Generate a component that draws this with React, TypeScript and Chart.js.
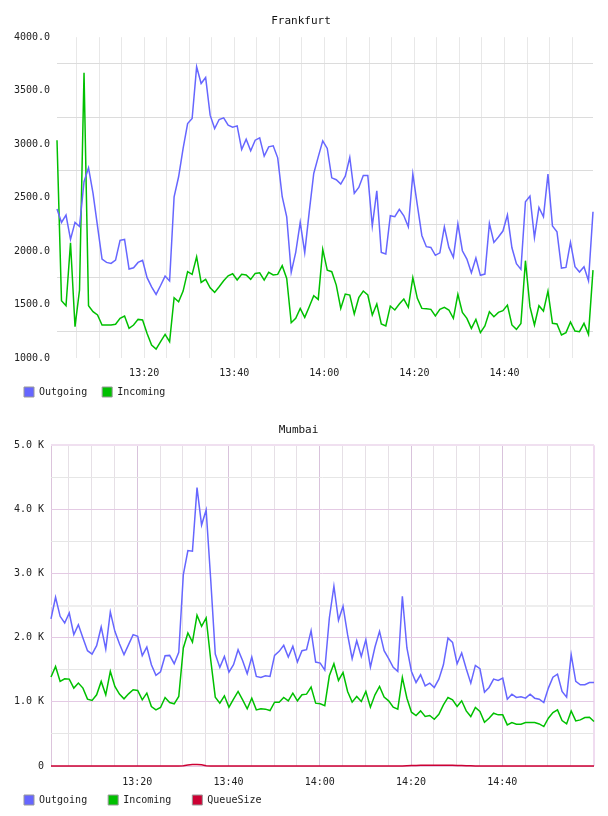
import React, { useEffect, useRef } from 'react';
import { Chart, registerables } from 'chart.js';

Chart.register(...registerables);

// ---------- data ----------
// minutes after 13:00 of the first sample, one sample per minute
const FRA_START = 0.65;
const MUM_START = 1.1;

const FRA_OUTGOING = [
  2393, 2268, 2336, 2109, 2268, 2230, 2648, 2779, 2539, 2230,
  1925, 1894, 1885, 1916, 2100, 2109, 1832, 1844, 1894, 1913,
  1751, 1666, 1595, 1678, 1766, 1720, 2508, 2695, 2960, 3193,
  3240, 3723, 3567, 3623, 3271, 3146, 3230, 3246, 3178, 3159,
  3171, 2950, 3047, 2938, 3037, 3059, 2888, 2975, 2984, 2872,
  2508, 2321, 1801, 1988, 2268, 1985, 2367, 2726, 2881, 3031,
  2960, 2685, 2667, 2626, 2701, 2875, 2539, 2595, 2707, 2707,
  2234, 2564, 1988, 1972, 2330, 2321, 2390, 2330, 2227, 2720,
  2430, 2146, 2041, 2034, 1960, 1984, 2227, 2034, 1941, 2255,
  2003, 1925, 1798, 1935, 1773, 1785, 2259, 2081, 2131, 2187,
  2337, 2031, 1882, 1829, 2461, 2514, 2125, 2408, 2321, 2720,
  2234, 2181, 1841, 1847, 2081, 1854, 1804, 1854, 1723, 2368,
];

const FRA_INCOMING = [
  3037, 1536, 1489, 2078, 1293, 1636, 3667, 1489, 1433, 1402,
  1308, 1308, 1308, 1315, 1371, 1393, 1277, 1308, 1361, 1355,
  1230, 1121, 1084, 1153, 1221, 1153, 1564, 1526, 1626, 1807,
  1782, 1947, 1707, 1735, 1657, 1614, 1667, 1723, 1769, 1788,
  1729, 1782, 1776, 1735, 1791, 1797, 1729, 1801, 1776, 1782,
  1863, 1744, 1330, 1371, 1464, 1380, 1480, 1583, 1548, 2015,
  1822, 1807, 1682, 1464, 1598, 1589, 1411, 1564, 1626, 1589,
  1402, 1505, 1318, 1299, 1486, 1449, 1505, 1551, 1474, 1751,
  1558, 1464, 1461, 1455, 1393, 1455, 1474, 1449, 1371, 1595,
  1427, 1371, 1277, 1361, 1237, 1299, 1433, 1386, 1427, 1442,
  1495, 1309, 1268, 1324, 1910, 1480, 1309, 1489, 1439, 1626,
  1324, 1318, 1215, 1237, 1336, 1252, 1246, 1324, 1221, 1822,
];

const MUM_OUTGOING = [
  2292, 2630, 2333, 2229, 2385, 2047, 2203, 1995, 1797, 1745,
  1875, 2167, 1823, 2401, 2099, 1906, 1735, 1891, 2047, 2021,
  1719, 1854, 1578, 1412, 1469, 1719, 1724, 1594, 1771, 2984,
  3359, 3349, 4339, 3755, 3990, 2906, 1745, 1537, 1708, 1464,
  1578, 1813, 1641, 1438, 1698, 1396, 1380, 1406, 1396, 1724,
  1787, 1880, 1698, 1865, 1620, 1797, 1813, 2110, 1620, 1604,
  1495, 2307, 2802, 2271, 2490, 2047, 1672, 1953, 1708, 1969,
  1542, 1854, 2099, 1797, 1672, 1537, 1474, 2646, 1839, 1474,
  1302, 1422, 1250, 1292, 1224, 1354, 1578, 1995, 1927, 1594,
  1760, 1516, 1292, 1568, 1516, 1151, 1224, 1354, 1333, 1370,
  1042, 1120, 1068, 1078, 1057, 1120, 1057, 1042, 990, 1214,
  1385, 1432, 1161, 1073, 1734, 1318, 1266, 1266, 1302, 1302,
];

const MUM_INCOMING = [
  1386, 1552, 1318, 1360, 1354, 1214, 1292, 1214, 1042, 1021,
  1110, 1318, 1110, 1474, 1240, 1120, 1047, 1125, 1188, 1177,
  1031, 1136, 927, 875, 912, 1068, 990, 969, 1084, 1839,
  2073, 1932, 2349, 2177, 2307, 1656, 1073, 979, 1094, 917,
  1042, 1162, 1031, 891, 1058, 875, 891, 886, 865, 995,
  995, 1068, 1016, 1136, 1016, 1110, 1120, 1229, 979, 969,
  940, 1406, 1594, 1333, 1458, 1161, 995, 1083, 1005, 1161,
  917, 1109, 1240, 1073, 1016, 917, 886, 1380, 1057, 839,
  787, 859, 771, 787, 729, 807, 953, 1068, 1031, 927,
  1016, 859, 771, 912, 849, 682, 745, 823, 797, 797,
  641, 677, 651, 651, 677, 677, 677, 656, 615, 745,
  833, 875, 708, 656, 859, 703, 719, 755, 760, 693,
];

const MUM_QUEUE = [
  0, 0, 0, 0, 0, 0, 0, 0, 0, 0,
  0, 0, 0, 0, 0, 0, 0, 0, 0, 0,
  0, 0, 0, 0, 0, 0, 0, 0, 0, 5,
  15, 25, 25, 20, 5, 0, 0, 0, 0, 0,
  0, 0, 0, 0, 0, 0, 0, 0, 0, 0,
  0, 0, 0, 0, 0, 0, 0, 0, 0, 0,
  0, 0, 0, 0, 0, 0, 0, 0, 0, 0,
  0, 0, 0, 0, 0, 0, 0, 0, 3, 6,
  8, 10, 12, 12, 12, 12, 12, 10, 10, 8,
  6, 4, 2, 0, 0, 0, 0, 0, 0, 0,
  0, 0, 0, 0, 0, 0, 0, 0, 0, 0,
  0, 0, 0, 0, 0, 0, 0, 0, 0, 0,
];

// grid lines every 5 minutes, labels every 20 minutes (minutes after 13:00)
const X_GRID_MINUTES = [5, 10, 15, 20, 25, 30, 35, 40, 45, 50, 55, 60, 65, 70, 75, 80, 85, 90, 95, 100, 105, 110, 115];
const X_LABEL_MINUTES = [20, 40, 60, 80, 100];
const FRA_Y_TICKS = [1000, 1250, 1500, 1750, 2000, 2250, 2500, 2750, 3000, 3250, 3500, 3750, 4000];
const FRA_Y_LABELS = [1000, 1500, 2000, 2500, 3000, 3500, 4000];
const MUM_Y_TICKS = [0, 500, 1000, 1500, 2000, 2500, 3000, 3500, 4000, 4500, 5000];
const MUM_Y_LABELS = [0, 1000, 2000, 3000, 4000, 5000];

// ---------- styling ----------
const MONO = '"DejaVu Sans Mono", "Liberation Mono", monospace';
const BLUE = '#6666ff';
const GREEN = '#00c000';
const RED = '#cc0033';
const TEXT = '#222222';

const fmtTime = (m: number) => {
  const h = 13 + Math.floor(m / 60);
  const mm = Math.round(m % 60);
  return `${h}:${String(mm).padStart(2, '0')}`;
};

const points = (start: number, values: number[]) =>
  values.map((v, i) => ({ x: start + i, y: v }));

const legendLabels = (chart: any) =>
  chart.data.datasets.map((ds: any, i: number) => ({
    text: ds.label,
    fillStyle: ds.borderColor,
    strokeStyle: '#999999',
    lineWidth: 1,
    hidden: false,
    datasetIndex: i,
    fontColor: TEXT,
  }));

// the x axis is kept short so the legend sits close to it; give its labels
// room to draw below the axis box (Chart.js clips labels to the scale box)
const labelRoom = {
  id: 'labelRoom',
  afterLayout(chart: any) {
    const x = chart.scales.x;
    if (x) x.bottom = x.top + 30;
  },
};

function lineDs(label: string, start: number, values: number[], color: string) {
  return {
    label,
    data: points(start, values),
    borderColor: color,
    backgroundColor: color,
    borderWidth: 1.5,
    pointRadius: 0,
    tension: 0,
    fill: false,
    clip: 4,
  };
}

function frankfurtConfig(): any {
  const n = FRA_OUTGOING.length;
  return {
    type: 'line',
    data: {
      datasets: [
        lineDs('Outgoing', FRA_START, FRA_OUTGOING, BLUE),
        lineDs('Incoming', FRA_START, FRA_INCOMING, GREEN),
      ],
    },
    plugins: [labelRoom],
    options: {
      responsive: false,
      animation: false,
      events: [],
      layout: { padding: { left: 9, right: 15, top: 0, bottom: 1 } },
      plugins: {
        title: {
          display: true,
          text: 'Frankfurt',
          color: '#111',
          font: { family: MONO, size: 11, weight: 'normal' },
          padding: { top: 15, bottom: 9 },
        },
        legend: {
          position: 'bottom',
          align: 'start',
          labels: {
            boxWidth: 10,
            boxHeight: 10,
            padding: 15,
            color: TEXT,
            font: { family: MONO, size: 10 },
            generateLabels: legendLabels,
          },
        },
        tooltip: { enabled: false },
      },
      scales: {
        x: {
          type: 'linear',
          min: FRA_START,
          max: FRA_START + n - 1,
          afterBuildTicks: (s: any) => {
            s.ticks = X_GRID_MINUTES.map((v) => ({ value: v }));
          },
          afterFit: (s: any) => {
            s.height = 14;
          },
          ticks: {
            autoSkip: false,
            maxRotation: 0,
            padding: 9,
            color: TEXT,
            font: { family: MONO, size: 10 },
            callback: (v: number) => (X_LABEL_MINUTES.includes(v) ? fmtTime(v) : ''),
          },
          grid: { color: '#e8e8e8', lineWidth: 1, drawTicks: false },
          border: { display: false },
        },
        y: {
          min: 1000,
          max: 4000,
          afterBuildTicks: (s: any) => {
            s.ticks = FRA_Y_TICKS.map((v) => ({ value: v }));
          },
          afterFit: (s: any) => {
            s.width = 48;
          },
          ticks: {
            autoSkip: false,
            padding: 7,
            color: TEXT,
            font: { family: MONO, size: 10 },
            callback: (v: number) => (FRA_Y_LABELS.includes(v) ? v.toFixed(1) : ''),
          },
          grid: {
            drawTicks: false,
            lineWidth: 1,
            color: (ctx: any) =>
              ctx.tick && !FRA_Y_LABELS.includes(ctx.tick.value) ? '#dcdcdc' : 'rgba(0,0,0,0)',
          },
          border: { display: false },
        },
      },
    },
  };
}

function mumbaiConfig(): any {
  const n = MUM_OUTGOING.length;
  const xmin = MUM_START;
  const xmax = MUM_START + n - 1;
  return {
    type: 'line',
    data: {
      datasets: [
        lineDs('Outgoing', MUM_START, MUM_OUTGOING, BLUE),
        lineDs('Incoming', MUM_START, MUM_INCOMING, GREEN),
        lineDs('QueueSize', MUM_START, MUM_QUEUE, RED),
      ],
    },
    plugins: [labelRoom],
    options: {
      responsive: false,
      animation: false,
      events: [],
      layout: { padding: { left: 3, right: 14, top: 0, bottom: 1 } },
      plugins: {
        title: {
          display: true,
          text: 'Mumbai',
          color: '#111',
          font: { family: MONO, size: 11, weight: 'normal' },
          padding: { top: 16, bottom: 8 },
        },
        legend: {
          position: 'bottom',
          align: 'start',
          labels: {
            boxWidth: 10,
            boxHeight: 10,
            padding: 21,
            color: TEXT,
            font: { family: MONO, size: 10 },
            generateLabels: legendLabels,
          },
        },
        tooltip: { enabled: false },
      },
      scales: {
        x: {
          type: 'linear',
          min: xmin,
          max: xmax,
          afterBuildTicks: (s: any) => {
            s.ticks = [xmin, ...X_GRID_MINUTES, xmax].map((v) => ({ value: v }));
          },
          afterFit: (s: any) => {
            s.height = 8;
          },
          ticks: {
            autoSkip: false,
            maxRotation: 0,
            padding: 10,
            color: TEXT,
            font: { family: MONO, size: 10 },
            callback: (v: number) => (X_LABEL_MINUTES.includes(v) ? fmtTime(v) : ''),
          },
          grid: {
            drawTicks: false,
            color: (ctx: any) => {
              const v = ctx.tick ? ctx.tick.value : 0;
              if (v === xmin) return '#dcc4dc';
              if (v === xmax) return '#f0dcf0';
              if (X_LABEL_MINUTES.includes(v)) return '#d9c3dc';
              return '#e6e0e6';
            },
            lineWidth: (ctx: any) => (ctx.tick && ctx.tick.value === xmax ? 2 : 1),
          },
          border: { display: false },
        },
        y: {
          min: 0,
          max: 5000,
          afterBuildTicks: (s: any) => {
            s.ticks = MUM_Y_TICKS.map((v) => ({ value: v }));
          },
          afterFit: (s: any) => {
            s.width = 48;
          },
          ticks: {
            autoSkip: false,
            padding: 7,
            color: TEXT,
            font: { family: MONO, size: 10 },
            callback: (v: number) =>
              MUM_Y_LABELS.includes(v) ? (v === 0 ? '0' : `${(v / 1000).toFixed(1)} K`) : '',
          },
          grid: {
            drawTicks: false,
            color: (ctx: any) => {
              const v = ctx.tick ? ctx.tick.value : 0;
              if (v === 5000) return '#f0e0f0';
              if (v === 2500) return '#eeeeee';
              if (MUM_Y_LABELS.includes(v)) return '#e4cae4';
              return '#e6e6e6';
            },
            lineWidth: (ctx: any) => {
              const v = ctx.tick ? ctx.tick.value : 0;
              if (v === 5000 || v === 2500) return 2;
              return 1;
            },
          },
          border: { display: false },
        },
      },
    },
  };
}

function LineChart({ makeConfig }: { makeConfig: () => any }) {
  const ref = useRef<HTMLCanvasElement>(null);
  useEffect(() => {
    if (!ref.current) return;
    const chart = new Chart(ref.current, makeConfig());
    return () => chart.destroy();
  }, [makeConfig]);
  return (
    <canvas
      ref={ref}
      width={608}
      height={408}
      style={{ display: 'block', width: 608, height: 408 }}
    />
  );
}

export default function App() {
  return (
    <div
      style={{
        position: 'absolute',
        left: 0,
        top: 0,
        width: 608,
        height: 816,
        background: '#ffffff',
      }}
    >
      <LineChart makeConfig={frankfurtConfig} />
      <LineChart makeConfig={mumbaiConfig} />
    </div>
  );
}
